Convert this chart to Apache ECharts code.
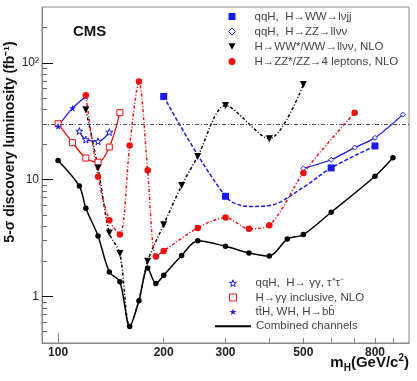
<!DOCTYPE html>
<html>
<head>
<meta charset="utf-8">
<title>CMS 5-sigma discovery luminosity</title>
<script src="https://cdn.jsdelivr.net/npm/echarts@6.0.0/dist/echarts.min.js"></script>
<style>
  html, body { margin: 0; padding: 0; background: #fff; }
  #chart { width: 417px; height: 381px; }
</style>
</head>
<body>
<div id="chart"></div>
<script type="text/javascript">
// Higgs mass (GeV/c2) and 5-sigma discovery luminosity (fb-1)
var combMass = [100, 115, 120, 130, 140, 150, 160, 170, 180, 190, 200, 225, 250, 300, 350, 400, 450, 500, 600, 800, 900];
var combLumi = [14.6, 8.8, 5.7, 3.3, 1.62, 1.34, 0.555, 0.92, 1.75, 1.29, 1.52, 2.24, 3.0, 2.69, 2.36, 2.22, 3.1, 3.39, 5.26, 10.7, 15.4];

var wwMass = [120, 130, 140, 150, 160, 170, 180, 200, 225, 250, 300, 400, 500];
var wwLumi = [39.6, 12.6, 3.5, 2.33, 0.55, 0.93, 2.0, 4.12, 8.9, 15.8, 43, 22.4, 65];
var wwHidden = [160, 170];

var zzMass = [120, 130, 140, 150, 160, 170, 180, 190, 200, 250, 300, 350, 400, 500, 700];
var zzLumi = [52.6, 10.6, 4.5, 3.4, 19.6, 69, 12.0, 2.2, 2.45, 3.86, 4.73, 3.8, 4.07, 11.4, 37.4];

var qqWWMass = [200, 300, 350, 400, 500, 600, 800];
var qqWWLumi = [51.5, 7.2, 5.9, 6.0, 8.6, 12.6, 19.4];
var qqWWHidden = [350, 400, 500];

var qqZZMass = [500, 600, 700, 800, 960];
var qqZZLumi = [12.5, 14.8, 18.8, 22.8, 36];

var ggMass = [100, 110, 120, 130, 140, 150];
var ggLumi = [30.1, 20.7, 15.3, 14.1, 19.0, 37.4];

var qqTauMass = [115, 120, 130, 140];
var qqTauLumi = [26.0, 22.0, 21.3, 25.5];

var ttHMass = [100, 110, 120];
var ttHLumi = [28.6, 40.9, 51.5];

var discoveryLine = 30;

var xLabels = [100, 200, 300, 500, 800];
var xMinorTicks = [200, 300, 400, 500, 600, 700, 800, 900];
var yLabels = [1, 10, 100];
var yMinorTicks = [0.5, 0.6, 0.7, 0.8, 0.9, 2, 3, 4, 5, 6, 7, 8, 9, 20, 30, 40, 50, 60, 70, 80, 90, 200];

var BLUE = '#1a1aee';
var RED = '#ee1111';
var FONT = '"Liberation Sans", Arial, sans-serif';

var STAR = 'path://M5,0 L6.2,3.6 L10,3.6 L6.9,5.9 L8.1,9.5 L5,7.3 L1.9,9.5 L3.1,5.9 L0,3.6 L3.8,3.6 Z';
var DOWN_TRI = 'path://M0,0 L10,0 L5,9 Z';
var DIAMOND = 'path://M5,0 L10,5 L5,10 L0,5 Z';
var SQUARE = 'path://M0,0 L10,0 L10,10 L0,10 Z';

var names = {
    qqWW: 'qqH,  H\u2192WW\u2192l\u03bdjj',
    qqZZ: 'qqH,  H\u2192ZZ\u2192ll\u03bd\u03bd',
    ww: 'H\u2192WW*/WW\u2192ll\u03bd\u03bd, NLO',
    zz: 'H\u2192ZZ*/ZZ\u21924 leptons, NLO',
    qqTau: 'qqH,  H\u2192 \u03b3\u03b3, \u03c4\u207a\u03c4\u207b',
    gg: 'H\u2192\u03b3\u03b3 inclusive, NLO',
    ttH: 'tt\u0304H, WH, H\u2192bb\u0304',
    comb: 'Combined channels'
};

function points(xs, ys, hidden) {
    return xs.map(function (x, i) {
        var item = { value: [x, ys[i]] };
        if (hidden && hidden.indexOf(x) >= 0) {
            item.symbol = 'none';
        }
        return item;
    });
}

// marker legends: icon box = symbol, text pushed right with padding
function markerLegend(left, top, rowHeight, items) {
    return {
        orient: 'vertical', left: left, top: top, padding: 0, itemGap: 0,
        itemWidth: 7, itemHeight: 7, selectedMode: false,
        textStyle: { fontSize: 11.5, color: '#444', lineHeight: rowHeight, fontFamily: FONT, padding: [0, 0, 0, 14] },
        data: items
    };
}

var chart = echarts.init(document.getElementById('chart'));

chart.setOption({
    animation: false,
    backgroundColor: '#fff',
    grid: {
        left: 42, right: 8, top: 7, bottom: 38,
        show: true, borderColor: '#888', borderWidth: 1,
        outerBoundsMode: 'none'
    },
    graphic: [
        {
            type: 'text', left: 73, top: 24,
            style: { text: 'CMS', fontSize: 15, fontWeight: 'bold', fontFamily: FONT, fill: '#111' }
        },
        {
            type: 'text', x: 10, y: 142, rotation: Math.PI / 2,
            style: {
                text: '5-\u03c3 discovery luminosity (fb\u207b\u00b9)',
                align: 'center', verticalAlign: 'middle',
                fontSize: 14, fontWeight: 'bold', fontFamily: FONT, fill: '#111'
            }
        },
        {
            type: 'text', right: 8, top: 353,
            style: {
                text: '{m|m}{s|H}{m|(GeV/c}{p|2}{m|)}',
                fill: '#111',
                rich: {
                    m: { fontSize: 15, fontWeight: 'bold', fontFamily: FONT, lineHeight: 20, verticalAlign: 'middle' },
                    s: { fontSize: 10, fontWeight: 'bold', fontFamily: FONT, lineHeight: 20, verticalAlign: 'bottom' },
                    p: { fontSize: 10, fontWeight: 'bold', fontFamily: FONT, lineHeight: 20, verticalAlign: 'top' }
                }
            }
        }
    ],
    legend: [
        markerLegend(228, 9, 15, [
            { name: names.qqWW, icon: SQUARE, itemStyle: { color: BLUE, borderWidth: 0 } },
            { name: names.qqZZ, icon: DIAMOND, itemStyle: { color: '#fff', borderColor: BLUE, borderWidth: 1 } },
            { name: names.ww, icon: DOWN_TRI, itemStyle: { color: '#000', borderWidth: 0 } },
            { name: names.zz, icon: 'circle', itemStyle: { color: RED, borderWidth: 0 } }
        ]),
        markerLegend(229, 276, 14.3, [
            { name: names.qqTau, icon: STAR, itemStyle: { color: '#fff', borderColor: BLUE, borderWidth: 1 } },
            { name: names.gg, icon: SQUARE, itemStyle: { color: '#fff', borderColor: RED, borderWidth: 1 } },
            { name: names.ttH, icon: STAR, itemStyle: { color: BLUE, borderWidth: 0 } }
        ]),
        {
            orient: 'vertical', left: 215, top: 319, padding: 0,
            itemWidth: 36, itemHeight: 2, selectedMode: false,
            textStyle: { fontSize: 11.5, color: '#444', lineHeight: 14.3, fontFamily: FONT },
            data: [
                { name: names.comb, icon: 'rect', itemStyle: { color: '#000', borderWidth: 0 } }
            ]
        }
    ],
    xAxis: [
        {
            type: 'log', min: 90, max: 1000, position: 'bottom',
            axisLine: { onZero: false, lineStyle: { color: '#888' } },
            axisTick: { inside: true, length: 10, customValues: [100], lineStyle: { color: '#888' } },
            axisLabel: {
                customValues: xLabels, margin: 4,
                fontSize: 12, fontWeight: 'bold', color: '#222', fontFamily: FONT
            },
            splitLine: { show: false }
        },
        {
            type: 'log', min: 90, max: 1000, position: 'bottom',
            axisLine: { show: false, onZero: false },
            axisTick: { inside: true, length: 5, customValues: xMinorTicks, lineStyle: { color: '#888' } },
            axisLabel: { show: false },
            splitLine: { show: false }
        }
    ],
    yAxis: [
        {
            type: 'log', min: 0.4, max: 300, position: 'left',
            axisLine: { onZero: false, lineStyle: { color: '#888' } },
            axisTick: { inside: true, length: 11, customValues: yLabels, lineStyle: { color: '#111' } },
            axisLabel: {
                customValues: yLabels, margin: 3,
                fontSize: 12, color: '#222', fontFamily: FONT,
                formatter: function (v) { return v >= 100 ? '10\u00b2' : String(v); }
            },
            splitLine: { show: false }
        },
        {
            type: 'log', min: 0.4, max: 300, position: 'left',
            axisLine: { show: false, onZero: false },
            axisTick: { inside: true, length: 5, customValues: yMinorTicks, lineStyle: { color: '#666' } },
            axisLabel: { show: false },
            splitLine: { show: false }
        }
    ],
    series: [
        {
            name: names.qqWW, type: 'line', smooth: 0.35,
            data: points(qqWWMass, qqWWLumi, qqWWHidden),
            symbol: SQUARE, symbolSize: 7,
            itemStyle: { color: BLUE },
            lineStyle: { color: BLUE, width: 1.5, type: [4, 2] }
        },
        {
            name: names.qqZZ, type: 'line', smooth: 0.3,
            data: points(qqZZMass, qqZZLumi),
            symbol: DIAMOND, symbolSize: 5,
            itemStyle: { color: '#fff', borderColor: BLUE, borderWidth: 1 },
            lineStyle: { color: BLUE, width: 1.3 }
        },
        {
            name: names.gg, type: 'line', smooth: 0.35,
            data: points(ggMass, ggLumi),
            symbol: SQUARE, symbolSize: 6,
            itemStyle: { color: '#fff', borderColor: RED, borderWidth: 1 },
            lineStyle: { color: RED, width: 1.3 }
        },
        {
            name: names.qqTau, type: 'line', smooth: 0.35,
            data: points(qqTauMass, qqTauLumi),
            symbol: STAR, symbolSize: 7,
            itemStyle: { color: '#fff', borderColor: BLUE, borderWidth: 1 },
            lineStyle: { color: BLUE, width: 1.3 }
        },
        {
            name: names.ttH, type: 'line', smooth: 0.3,
            data: points(ttHMass, ttHLumi),
            symbol: STAR, symbolSize: 7,
            itemStyle: { color: BLUE },
            lineStyle: { color: BLUE, width: 1.3 }
        },
        {
            name: names.ww, type: 'line', smooth: 0.3,
            data: points(wwMass, wwLumi, wwHidden),
            symbol: DOWN_TRI, symbolSize: 7,
            itemStyle: { color: '#000' },
            lineStyle: { color: '#000', width: 1.5, type: [3, 2, 1, 2] }
        },
        {
            name: names.zz, type: 'line', smooth: 0.3,
            data: points(zzMass, zzLumi),
            symbol: 'circle', symbolSize: 6.5,
            itemStyle: { color: RED },
            lineStyle: { color: RED, width: 1.5, type: [3, 2, 1, 2] }
        },
        {
            name: names.comb, type: 'line', smooth: 0.3,
            data: points(combMass, combLumi),
            symbol: 'circle', symbolSize: 5.5,
            itemStyle: { color: '#000' },
            lineStyle: { color: '#000', width: 1.5 },
            markLine: {
                silent: true, symbol: 'none',
                label: { show: false },
                lineStyle: { color: '#555', width: 1, type: [4, 2, 1, 2] },
                data: [{ yAxis: discoveryLine }]
            }
        }
    ]
});
</script>
</body>
</html>
